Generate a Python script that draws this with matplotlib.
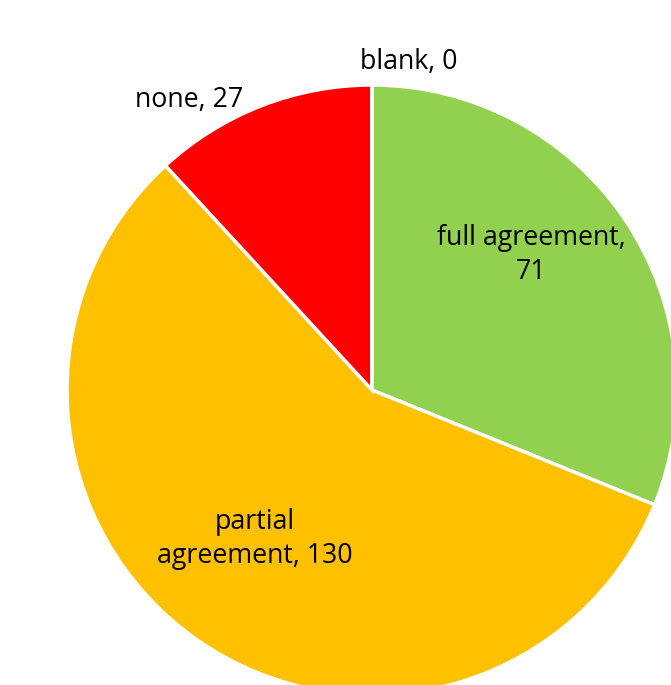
import matplotlib.pyplot as plt

labels = ["full agreement", "partial agreement", "none", "blank"]
values = [71, 130, 27, 0]
colors = ["#92D050", "#FFC000", "#FF0000", "#4472C4"]

W, H = 671, 685
fig = plt.figure(figsize=(W / 100, H / 100), dpi=100)
ax = fig.add_axes([0, 0, 1, 1])

ax.pie(values, colors=colors, startangle=90, counterclock=False,
       center=(372, H - 390), radius=305,
       wedgeprops=dict(edgecolor="white", linewidth=2.5))

# pie() resets the limits, so set them afterwards
ax.set_xlim(0, W)
ax.set_ylim(0, H)
ax.set_aspect("equal")
ax.axis("off")

font = dict(fontsize=19.3, family="Open Sans", color="black", ha="center", va="center")
ax.text(409, H - 62, f"{labels[3]}, {values[3]}", **font)
ax.text(189, H - 100, f"{labels[2]}, {values[2]}", **font)
ax.text(531, H - 255, f"full agreement,\n{values[0]}", linespacing=1.3, **font)
ax.text(255, H - 539, f"partial\nagreement, {values[1]}", linespacing=1.3, **font)

fig.savefig("out.png", dpi=100)
